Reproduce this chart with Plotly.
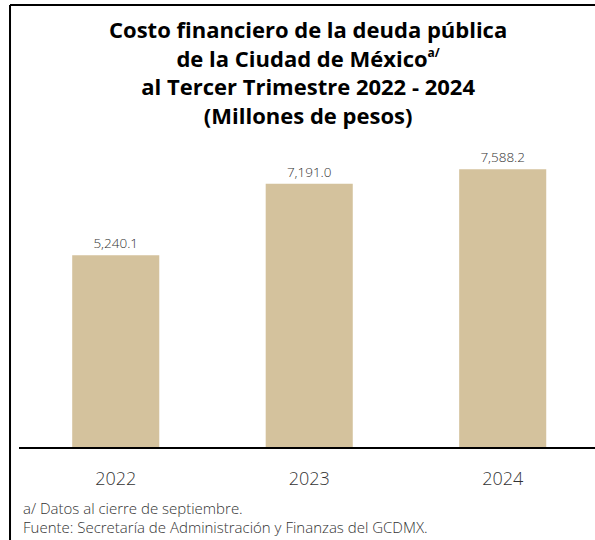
import plotly.graph_objects as go

years = ["2022", "2023", "2024"]
values = [5240.1, 7191.0, 7588.2]
value_labels = ["5,240.1", "7,191.0", "7,588.2"]

title_lines = ["Costo financiero de la deuda pública",
               "de la Ciudad de México<sup><span style='font-size:12px'>a/</span></sup>",
               "al Tercer Trimestre 2022 - 2024",
               "(Millones de pesos)"]
note1 = "a/ Datos al cierre de septiembre."
note2 = "Fuente: Secretaría de Administración y Finanzas del GCDMX."

BAR = "#D4C29D"
FONT = "Open Sans"

fig = go.Figure(go.Bar(
    x=years, y=values,
    text=value_labels, textposition="outside",
    textfont=dict(family=FONT, size=13.5, color="#333333", weight=300),
    marker=dict(color=BAR, line=dict(width=0)),
    width=0.45, cliponaxis=False, hoverinfo="skip",
))

fig.update_layout(
    width=595, height=540,
    margin=dict(l=19, r=0, t=150, b=93),
    plot_bgcolor="white", paper_bgcolor="white",
    showlegend=False,
    xaxis=dict(range=[-0.5, 2.477], showline=True, linecolor="black", linewidth=2,
               ticks="", tickfont=dict(family=FONT, size=18, color="#333333", weight=300),
               ticklabelstandoff=14, showgrid=False, zeroline=False, fixedrange=True),
    yaxis=dict(range=[0, 8115], visible=False, showgrid=False, zeroline=False, fixedrange=True),
    annotations=[
        dict(text="<br>".join(title_lines), xref="paper", yref="paper", x=0.502, y=1.466,
             xanchor="center", yanchor="top", showarrow=False, align="center",
             font=dict(family=FONT, size=22, color="black", weight="bold")),
        dict(text=note1, xref="paper", yref="paper", x=0.0035, y=-0.205,
             xanchor="left", yanchor="middle", showarrow=False,
             font=dict(family=FONT, size=15, color="#333333", weight=300)),
        dict(text=note2, xref="paper", yref="paper", x=0.0035, y=-0.268,
             xanchor="left", yanchor="middle", showarrow=False,
             font=dict(family=FONT, size=15, color="#333333", weight=300)),
    ],
    shapes=[
        dict(type="line", xref="paper", yref="paper", x0=-0.0156, x1=-0.0156, y0=-0.4, y1=1.488,
             line=dict(color="black", width=2)),
        dict(type="line", xref="paper", yref="paper", x0=-0.0156, x1=1.05, y0=1.488, y1=1.488,
             line=dict(color="black", width=2)),
    ],
)

fig.write_html("out.html", config={"displayModeBar": False},
               post_script="document.body.style.margin='0';document.body.style.overflow='hidden';")
